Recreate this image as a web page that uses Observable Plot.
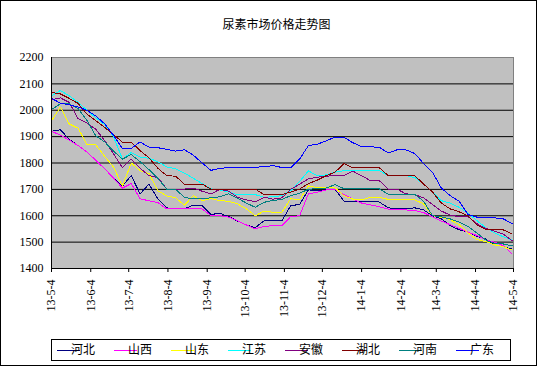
<!DOCTYPE html>
<html><head><meta charset="utf-8">
<script src="https://cdn.jsdelivr.net/npm/d3@7"></script>
<script src="https://cdn.jsdelivr.net/npm/@observablehq/plot@0.6"></script>
<style>body{margin:0;background:#fff} svg{display:block}</style>
</head><body><div id="chart"></div>
<script>
const titleText = "尿素市场价格走势图";
const seriesNames = ["河北","山西","山东","江苏","安徽","湖北","河南","广东"];
const seriesColors = ["#000080","#ff00ff","#ffff00","#00ffff","#800080","#800000","#008080","#0000ff"];
const yTicks = [1400,1500,1600,1700,1800,1900,2000,2100,2200];
const tickDateStrings = ["2013-05-04","2013-06-04","2013-07-04","2013-08-04","2013-09-04","2013-10-04","2013-11-04","2013-12-04","2014-01-04","2014-02-04","2014-03-04","2014-04-04","2014-05-04"];
const tickLabels = ["13-5-4","13-6-4","13-7-4","13-8-4","13-9-4","13-10-4","13-11-4","13-12-4","14-1-4","14-2-4","14-3-4","14-4-4","14-5-4"];

// weekly observations starting 2013-05-04
const hebei  = [1920,1926,1890,1866,1842,1810,1778,1743,1712,1752,1683,1720,1664,1630,1626,1626,1640,1638,1605,1609,1597,1580,1565,1555,1581,1581,1581,1638,1643,1698,1695,1698,1700,1656,1654,1654,1654,1652,1630,1626,1626,1630,1622,1600,1588,1562,1547,1538,1522,1512,1490,1482,1474];
const shanxi = [1920,1906,1887,1866,1842,1810,1778,1743,1705,1722,1664,1657,1650,1626,1626,1626,1626,1626,1600,1600,1595,1581,1565,1550,1560,1562,1562,1597,1600,1683,1689,1698,1700,1680,1663,1648,1641,1634,1625,1622,1622,1620,1612,1596,1580,1566,1552,1538,1525,1508,1500,1486,1455];
const shandong = [1960,2012,1948,1932,1870,1869,1825,1785,1712,1800,1771,1760,1695,1675,1668,1640,1676,1657,1665,1657,1655,1645,1626,1600,1618,1613,1613,1665,1660,1713,1707,1707,1706,1676,1663,1660,1670,1670,1662,1662,1662,1660,1645,1600,1594,1585,1567,1535,1510,1502,1490,1482,1470];
const jiangsu = [2055,2075,2055,2030,2000,1972,1945,1900,1815,1840,1822,1818,1805,1785,1778,1762,1742,1722,1702,1698,1690,1680,1680,1680,1670,1672,1676,1695,1730,1770,1752,1755,1765,1771,1771,1771,1771,1771,1752,1752,1752,1745,1720,1690,1657,1648,1632,1610,1582,1555,1535,1520,1508];
const anhui = [2040,2047,2030,1968,1952,1928,1885,1835,1782,1815,1780,1752,1745,1701,1701,1701,1705,1693,1683,1700,1693,1670,1660,1653,1670,1663,1668,1700,1720,1740,1746,1750,1752,1752,1769,1752,1733,1733,1701,1701,1683,1680,1668,1643,1618,1602,1597,1597,1570,1552,1542,1530,1505];
const hubei = [2068,2062,2045,2026,1985,1960,1935,1908,1879,1879,1847,1820,1780,1752,1750,1720,1720,1720,1701,1701,1701,1701,1701,1701,1680,1680,1680,1690,1701,1722,1735,1752,1765,1798,1782,1782,1782,1782,1752,1752,1752,1752,1720,1690,1648,1626,1615,1600,1566,1549,1547,1546,1531];
const henan = [2003,2024,2024,2006,1962,1903,1880,1845,1815,1832,1805,1775,1742,1701,1700,1670,1664,1664,1668,1672,1683,1666,1648,1632,1651,1658,1662,1676,1685,1701,1702,1705,1718,1703,1703,1703,1703,1702,1682,1682,1682,1681,1655,1600,1596,1588,1576,1560,1535,1508,1495,1493,1486];
const guangdong = [2045,2027,2021,2012,2000,1978,1949,1905,1855,1855,1880,1860,1858,1852,1845,1850,1830,1800,1772,1780,1782,1782,1782,1784,1786,1790,1783,1781,1815,1866,1871,1884,1898,1898,1877,1862,1861,1860,1838,1850,1850,1836,1798,1765,1705,1676,1655,1605,1595,1594,1592,1588,1570];
const seriesValues = [hebei, shanxi, shandong, jiangsu, anhui, hubei, henan, guangdong];

const start = new Date(Date.UTC(2013,4,4));
const dates = hebei.map((_, i) => new Date(Date.UTC(2013,4,4 + 7*i)));
const tickDates = tickDateStrings.map(s => new Date(s + "T00:00:00Z"));
const labelByTime = new Map(tickDates.map((d,i)=>[+d, tickLabels[i]]));

const rows = [];
seriesNames.forEach((name, s) => seriesValues[s].forEach((v, i) => rows.push({date: dates[i], value: v, series: name})));

const chart = Plot.plot({
  width: 537, height: 366,
  marginLeft: 51, marginRight: 24, marginTop: 57, marginBottom: 98,
  style: {fontFamily: "'Liberation Serif','Noto Sans CJK SC',serif", fontSize: "12px", background: "#fff", color: "#000"},
  x: {type: "utc", domain: [start, tickDates[tickDates.length-1]]},
  y: {domain: [1400, 2200]},
  color: {domain: seriesNames, range: seriesColors},
  marks: [
    Plot.frame({fill: "#c0c0c0", stroke: null}),
    Plot.ruleY(yTicks.slice(1, -1), {stroke: "#000", strokeWidth: 1}),
    Plot.line(rows, {x: "date", y: "value", z: "series", stroke: "series", strokeWidth: 1, shapeRendering: "crispEdges"}),
    Plot.frame({stroke: "#808080"}),
    Plot.ruleX([start], {stroke: "#000"}),
    Plot.ruleY([1400], {stroke: "#000"}),
    Plot.axisY({ticks: yTicks, tickFormat: d => String(d), tickSize: 0, tickPadding: 8, label: null}),
    Plot.axisX({ticks: tickDates, tickFormat: d => labelByTime.get(+d), tickRotate: -90, tickSize: 4, tickPadding: 7, label: null}),
    Plot.text([titleText], {frameAnchor: "top", dx: -6, dy: -37, fontFamily: "'Noto Sans CJK SC',sans-serif", fontSize: 12, fill: "#000"})
  ]
});

const svg = d3.select(chart);
const lg = svg.append("g");
lg.append("rect").attr("x", 51.5).attr("y", 339.5).attr("width", 459).attr("height", 21)
  .attr("fill", "#fff").attr("stroke", "#000");
seriesNames.forEach((name, i) => {
  const x0 = 57 + 57 * i;
  lg.append("line").attr("x1", x0).attr("x2", x0 + 23).attr("y1", 350.5).attr("y2", 350.5)
    .attr("stroke", seriesColors[i]).attr("stroke-width", 1);
  lg.append("text").attr("x", x0 + 26).attr("y", 350).attr("dy", "0.35em")
    .attr("font-family", "'Noto Sans CJK SC',sans-serif").attr("font-size", 12).attr("fill", "#000").text(name);
});
svg.append("rect").attr("x", 0.5).attr("y", 0.5).attr("width", 536).attr("height", 365)
  .attr("fill", "none").attr("stroke", "#000");

document.getElementById("chart").appendChild(chart);
</script>
</body></html>
